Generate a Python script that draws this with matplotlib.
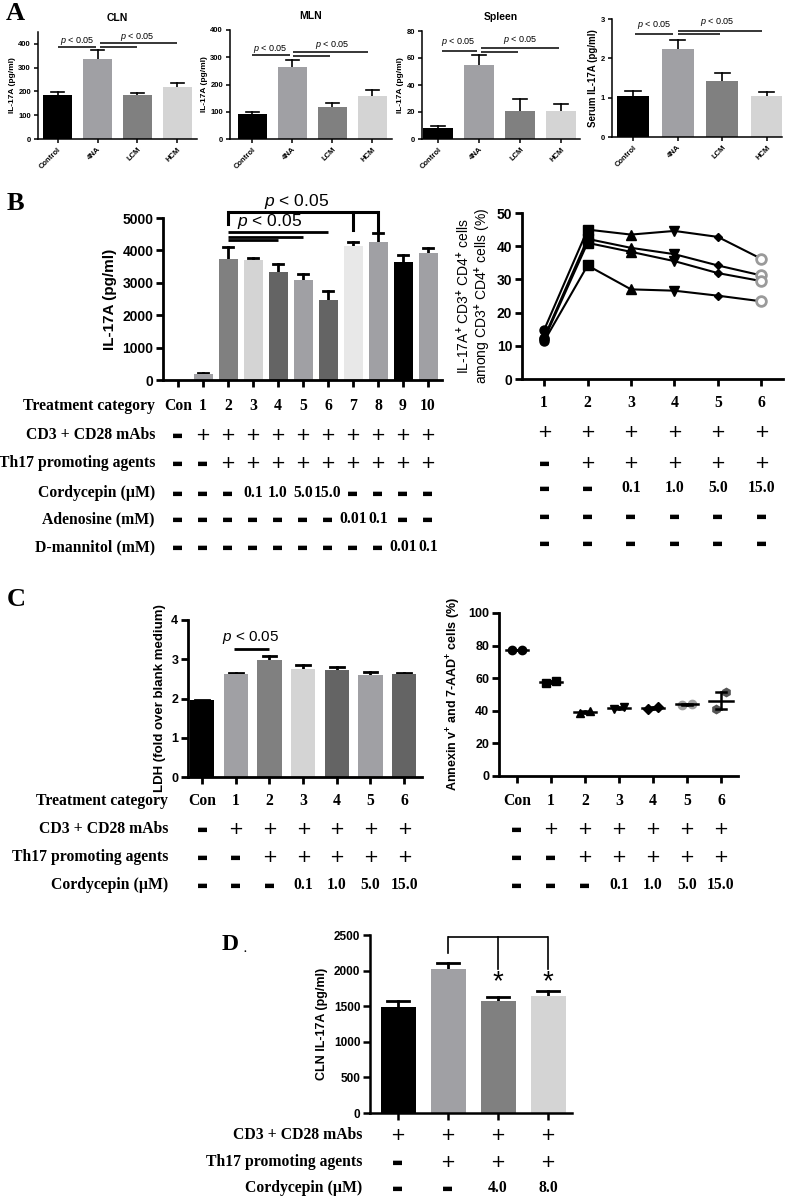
import matplotlib
matplotlib.use("Agg")
import matplotlib.pyplot as plt
import matplotlib.transforms as mtransforms
import numpy as np

W, H = 789, 1200

plt.rcParams["font.family"] = ["Liberation Sans", "DejaVu Sans"]
plt.rcParams["font.weight"] = "bold"
plt.rcParams["axes.labelweight"] = "bold"
plt.rcParams["mathtext.fontset"] = "custom"
plt.rcParams["mathtext.rm"] = "Liberation Sans"
plt.rcParams["mathtext.it"] = "Liberation Sans:italic:normal"
plt.rcParams["mathtext.bf"] = "Liberation Sans:bold"

BLACK = "#000000"
MID = "#a0a0a4"
DARK = "#808080"
DARKER = "#646464"
LIGHT = "#d4d4d4"
PALE = "#e8e8e8"
SERIF = ["Liberation Serif", "DejaVu Serif"]

# ---- panel A data
a_groups = ["Control", "4NA", "LCM", "HCM"]
a_colors = [BLACK, MID, DARK, LIGHT]
a_cln = [183, 338, 183, 218]
a_cln_err = [13, 35, 10, 17]
a_mln = [90, 265, 117, 157]
a_mln_err = [10, 26, 15, 21]
a_spleen = [8, 55, 21, 20.5]
a_spleen_err = [1.8, 7, 8.5, 5.5]
a_serum = [1.05, 2.25, 1.42, 1.05]
a_serum_err = [0.12, 0.22, 0.2, 0.1]

# ---- panel B data
b_cat = ["Con", "1", "2", "3", "4", "5", "6", "7", "8", "9", "10"]
b_il17 = [0, 200, 3750, 3700, 3340, 3080, 2460, 4130, 4250, 3630, 3930]
b_il17_err = [0, 20, 340, 60, 230, 180, 290, 140, 280, 220, 140]
b_colors = [MID, MID, DARK, LIGHT, DARKER, MID, DARKER, PALE, MID, BLACK, MID]
b_cd3 = ["-", "+", "+", "+", "+", "+", "+", "+", "+", "+", "+"]
b_th17 = ["-", "-", "+", "+", "+", "+", "+", "+", "+", "+", "+"]
b_cord = ["-", "-", "-", "0.1", "1.0", "5.0", "15.0", "-", "-", "-", "-"]
b_aden = ["-", "-", "-", "-", "-", "-", "-", "0.01", "0.1", "-", "-"]
b_mann = ["-", "-", "-", "-", "-", "-", "-", "-", "-", "0.01", "0.1"]

b2_x = [1, 2, 3, 4, 5, 6]
b2_donors = [
    [14.8, 45.0, 43.5, 44.6, 42.8, 36.2],
    [12.5, 42.2, 39.5, 37.6, 34.2, 31.2],
    [12.0, 41.0, 38.3, 35.5, 31.9, 29.5],
    [11.4, 34.2, 27.0, 26.6, 25.1, 23.4],
]
b2_cat = ["1", "2", "3", "4", "5", "6"]
b2_cd3 = ["+", "+", "+", "+", "+", "+"]
b2_th17 = ["-", "+", "+", "+", "+", "+"]
b2_cord = ["-", "-", "0.1", "1.0", "5.0", "15.0"]
b2_aden = ["-", "-", "-", "-", "-", "-"]
b2_mann = ["-", "-", "-", "-", "-", "-"]

# ---- panel C data
c_cat = ["Con", "1", "2", "3", "4", "5", "6"]
c_ldh = [1.95, 2.62, 2.98, 2.75, 2.72, 2.60, 2.62]
c_ldh_err = [0.01, 0.03, 0.11, 0.11, 0.09, 0.07, 0.02]
c_colors = [BLACK, MID, DARK, LIGHT, DARKER, MID, DARKER]
c_cd3 = ["-", "+", "+", "+", "+", "+", "+"]
c_th17 = ["-", "-", "+", "+", "+", "+", "+"]
c_cord = ["-", "-", "-", "0.1", "1.0", "5.0", "15.0"]
c2_points = [
    [77.3, 77.6], [57.2, 58.0], [38.6, 39.8], [40.8, 42.3],
    [41.2, 42.2], [43.8, 44.0], [41.0, 51.5],
]

# ---- panel D data
d_il17 = [1490, 2025, 1580, 1640]
d_il17_err = [90, 75, 45, 80]
d_colors = [BLACK, MID, DARK, LIGHT]
d_cd3 = ["+", "+", "+", "+"]
d_th17 = ["-", "+", "+", "+"]
d_cord = ["-", "-", "4.0", "8.0"]

fig = plt.figure(figsize=(W / 100, H / 100), dpi=100)


def px_axes(l, t, r, b):
    return fig.add_axes([l / W, 1 - b / H, (r - l) / W, (b - t) / H])


def style(ax, fs, lw=1.5, tl=4):
    ax.spines[["top", "right"]].set_visible(False)
    ax.spines[["left", "bottom"]].set_linewidth(lw)
    ax.tick_params(width=lw, length=tl, labelsize=fs, pad=2)


def bars(ax, vals, errs, colors, width, cap, lw=1.5):
    x = np.arange(len(vals))
    ax.bar(x, vals, width, color=colors, zorder=2)
    for xi, v, e in zip(x, vals, errs):
        if e <= 0:
            continue
        ax.plot([xi, xi], [v, v + e], color="black", lw=lw, zorder=1)
        ax.plot([xi - cap, xi + cap], [v + e, v + e], color="black", lw=lw, zorder=1)


def sig(ax, segs, lw=1.2):
    for x0, x1, y in segs:
        ax.plot([x0, x1], [y, y], color="black", lw=lw, clip_on=False, solid_capstyle="butt")


def ptext(ax, x, y, fs):
    ax.text(x, y, "$p$ < 0.05", ha="center", va="center", fontsize=fs,
            fontweight="normal", clip_on=False)


def table(ax, rows, ys, label_right=None, fs=11.3):
    tr = mtransforms.blended_transform_factory(ax.transData, fig.transFigure)
    for (label, vals), y in zip(rows, ys):
        yf = 1 - y / H
        if label and label_right is not None:
            fig.text(label_right / W, yf, label, ha="right", va="center",
                     family=SERIF, fontsize=fs)
        for x, v in zip(ax.get_xticks(), vals):
            if v == "+":
                ax.text(x, yf, "+", transform=tr, ha="center", va="center",
                        family="DejaVu Sans", fontweight="normal", fontsize=13)
            elif v == "-":
                ax.text(x, yf, "\u25ac", transform=tr, ha="center", va="center",
                        family="DejaVu Sans", fontsize=8.5)
            else:
                ax.text(x, yf, v, transform=tr, ha="center", va="center",
                        family=SERIF, fontsize=fs)


# ================= Panel A =================
fig.text(6 / W, 1 - 14 / H, "A", family=SERIF, fontsize=19, va="center")

a_specs = [
    ("CLN", "IL-17A (pg/ml)", 6, a_cln, a_cln_err, (38, 32, 197, 139), (0, 450), [0, 100, 200, 300, 400],
     (-0.49, 3.49),
     [(0, 0.95, 387), (1.05, 3.0, 404), (1.05, 2.0, 387)], [(0.5, 414), (2.0, 430)]),
    ("MLN", "IL-17A (pg/ml)", 6, a_mln, a_mln_err, (230, 30, 392, 139), (0, 400), [0, 100, 200, 300, 400],
     (-0.56, 3.49),
     [(0, 0.94, 309), (1.02, 2.9, 320), (1.02, 1.94, 305)], [(0.46, 332), (2.0, 346)]),
    ("Spleen", "IL-17A (pg/ml)", 6, a_spleen, a_spleen_err, (422, 31, 580, 139), (0, 80), [0, 20, 40, 60, 80],
     (-0.39, 3.46),
     [(0.1, 0.95, 65.5), (1.05, 2.95, 67.5), (1.05, 1.95, 64.5)], [(0.5, 71.5), (2.0, 73.5)]),
    ("", "Serum IL-17A (pg/ml)", 7, a_serum, a_serum_err, (612, 19, 782, 137), (0, 3), [0, 1, 2, 3],
     (-0.47, 3.34),
     [(0.05, 0.9, 2.62), (1.0, 2.9, 2.7), (1.0, 1.95, 2.62)], [(0.48, 2.86), (1.9, 2.93)]),
]

for title, ylab, yfs, vals, errs, box, ylim, yt, xlim, segs, ptx in a_specs:
    ax = px_axes(*box)
    bars(ax, vals, errs, a_colors, 0.72, 0.17, lw=1.2)
    ax.set_ylim(*ylim)
    ax.set_xlim(*xlim)
    ax.set_yticks(yt)
    ax.set_xticks(range(len(a_groups)))
    ax.set_xticklabels(a_groups, rotation=45, ha="right", rotation_mode="anchor", fontsize=5.5)
    style(ax, 5.5, lw=1.1, tl=3)
    ax.set_ylabel(ylab, fontsize=yfs, labelpad=2)
    if title:
        ax.set_title(title, fontsize=7.5, fontweight="bold", pad=8)
    sig(ax, segs, lw=1.1)
    for x, y in ptx:
        ptext(ax, x, y, 6.5)

# ================= Panel B (left) =================
fig.text(7 / W, 1 - 203 / H, "B", family=SERIF, fontsize=19, va="center")

axb = px_axes(163, 218, 442, 380)
bars(axb, b_il17, b_il17_err, b_colors, 0.76, 0.2, lw=2)
axb.set_ylim(0, 5000)
axb.set_xlim(-0.6, 10.56)
axb.set_yticks([0, 1000, 2000, 3000, 4000, 5000])
axb.set_xticks(range(len(b_cat)))
axb.set_xticklabels([])
style(axb, 10, lw=2, tl=5)
axb.set_ylabel("IL-17A (pg/ml)", fontsize=11, labelpad=4)

# significance brackets
sig(axb, [(2, 8, 5185)], lw=2.2)
sig(axb, [(2, 6, 4568), (2, 5, 4414), (2, 4, 4321)], lw=2)
for xv, ybot in [(2, 4815), (7, 4630), (8, 4630)]:
    axb.plot([xv, xv], [ybot, 5185], color="black", lw=2.2, clip_on=False)
ptext(axb, 4.76, 5494, 12.5)
ptext(axb, 3.68, 4877, 12.5)

table(axb,
      [("Treatment category", b_cat), ("CD3 + CD28 mAbs", b_cd3),
       ("Th17 promoting agents", b_th17), ("Cordycepin (\u00b5M)", b_cord),
       ("Adenosine (mM)", b_aden), ("D-mannitol (mM)", b_mann)],
      [406, 435, 463, 493, 519, 547], label_right=155)

# ================= Panel B (right) =================
axb2 = px_axes(522, 213, 783, 379)
b2_markers = ["o", "s", "^", "v", "D", "o"]
for donor in b2_donors:
    axb2.plot(b2_x, donor, color="black", lw=1.5, zorder=1)
    for xi, yi, m in zip(b2_x, donor, b2_markers):
        if xi == 6:
            axb2.plot(xi, yi, marker="o", ms=7, mfc="white", mec="#9a9a9a", mew=2, zorder=3)
        else:
            axb2.plot(xi, yi, marker=m, ms=4.5 if m == "D" else 6.5, color="black", zorder=3)
axb2.set_ylim(0, 50)
axb2.set_xlim(0.49, 6.5)
axb2.set_yticks([0, 10, 20, 30, 40, 50])
axb2.set_xticks(b2_x)
axb2.set_xticklabels([])
style(axb2, 10, lw=2, tl=5)
axb2.set_ylabel("IL-17A$^{+}$ CD3$^{+}$ CD4$^{+}$ cells\namong CD3$^{+}$ CD4$^{+}$ cells (%)",
                fontsize=10, fontweight="normal", labelpad=3, linespacing=1.0)

table(axb2,
      [("", b2_cat), ("", b2_cd3), ("", b2_th17), ("", b2_cord), ("", b2_aden), ("", b2_mann)],
      [403, 432, 463, 488, 516, 543])

# ================= Panel C (left) =================
fig.text(7 / W, 1 - 600 / H, "C", family=SERIF, fontsize=19, va="center")

axc = px_axes(188, 620, 422, 777)
bars(axc, c_ldh, c_ldh_err, c_colors, 0.72, 0.2, lw=2)
axc.set_ylim(0, 4)
axc.set_xlim(-0.42, 6.53)
axc.set_yticks([0, 1, 2, 3, 4])
axc.set_xticks(range(len(c_cat)))
axc.set_xticklabels([])
style(axc, 9, lw=2, tl=5)
axc.set_ylabel("LDH (fold over blank medium)", fontsize=9.5, labelpad=4)
sig(axc, [(0.95, 2.0, 3.26)], lw=2)
ptext(axc, 1.45, 3.55, 11)

table(axc,
      [("Treatment category", c_cat), ("CD3 + CD28 mAbs", c_cd3),
       ("Th17 promoting agents", c_th17), ("Cordycepin (\u00b5M)", c_cord)],
      [801, 829, 857, 885], label_right=168)

# ================= Panel C (right) =================
axc2 = px_axes(499, 613, 738, 776)
c2_markers = ["o", "s", "^", "v", "D", "o", "h"]
c2_colors = ["black", "black", "black", "black", "black", "#a0a0a0", "#555555"]
for i, pts in enumerate(c2_points):
    pts = np.array(pts)
    mean = pts.mean()
    sem = pts.std(ddof=1) / np.sqrt(len(pts))
    axc2.plot([i - 0.16, i + 0.16], pts, ls="none", marker=c2_markers[i],
              ms=6 if c2_markers[i] != "D" else 5, color=c2_colors[i], zorder=2)
    half = 0.32 if i < 6 else 0.36
    axc2.plot([i - half, i + half], [mean, mean], color="black", lw=1.8, zorder=3)
    axc2.plot([i, i], [mean - sem, mean + sem], color="black", lw=1.8, zorder=3)
    for yy in (mean - sem, mean + sem):
        axc2.plot([i - 0.15, i + 0.15], [yy, yy], color="black", lw=1.8, zorder=3)
axc2.set_ylim(0, 100)
axc2.set_xlim(-0.53, 6.5)
axc2.set_yticks([0, 20, 40, 60, 80, 100])
axc2.set_xticks(range(len(c_cat)))
axc2.set_xticklabels([])
style(axc2, 9, lw=2, tl=5)
axc2.set_ylabel("Annexin v$^{+}$ and 7-AAD$^{+}$ cells (%)", fontsize=9, labelpad=4)

table(axc2, [("", c_cat), ("", c_cd3), ("", c_th17), ("", c_cord)], [801, 829, 857, 885])

# ================= Panel D =================
fig.text(222 / W, 1 - 945 / H, "D", family=SERIF, fontsize=17, va="center")
fig.text(243 / W, 1 - 950 / H, ".", family=SERIF, fontsize=8, va="center")

axd = px_axes(370, 935, 572, 1113)
bars(axd, d_il17, d_il17_err, d_colors, 0.7, 0.22, lw=2)
axd.set_ylim(0, 2500)
axd.set_xlim(-0.56, 3.48)
axd.set_yticks([0, 500, 1000, 1500, 2000, 2500])
axd.set_xticks(range(len(d_il17)))
axd.set_xticklabels([])
style(axd, 8.5, lw=1.8, tl=5)
axd.set_ylabel("CLN IL-17A (pg/ml)", fontsize=9, labelpad=4)
sig(axd, [(1, 3, 2470)], lw=1.2)
for xv, ybot in [(1, 2250), (2, 2020), (3, 2020)]:
    axd.plot([xv, xv], [ybot, 2470], color="black", lw=1.2, clip_on=False)
for xv in (2, 3):
    axd.text(xv, 1840, "*", ha="center", va="center", fontsize=20, fontweight="normal")

table(axd,
      [("CD3 + CD28 mAbs", d_cd3), ("Th17 promoting agents", d_th17),
       ("Cordycepin (\u00b5M)", d_cord)],
      [1135, 1162, 1188], label_right=362)

fig.savefig("out.png", dpi=100, facecolor="white")
